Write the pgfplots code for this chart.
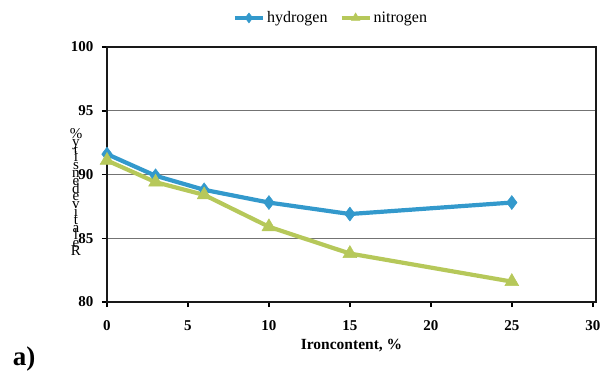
\documentclass[border=0pt]{standalone}
\usepackage{pgfplots}
\pgfplotsset{compat=1.18}
\usepackage{fontspec}
\setmainfont{Liberation Serif}
\definecolor{hblue}{RGB}{51,153,204}
\definecolor{ngreen}{RGB}{182,200,90}
\newcommand\stackfont{\fontsize{15}{7.8}\selectfont\setlength{\lineskiplimit}{-50pt}\setlength{\lineskip}{0pt}}
\begin{document}
\begin{tikzpicture}
\useasboundingbox (-107pt,-71pt) rectangle (498pt,302pt);
\begin{axis}[
  at={(0pt,0pt)}, anchor=south west,
  scale only axis, width=489pt, height=255pt,
  xmin=0, xmax=30.2, ymin=80, ymax=100,
  xtick={0,5,...,30}, ytick={80,85,90,95,100},
  axis line style={line width=1.8pt, black!90},
  tick style={line width=1.5pt, black},
  tick align=outside, major tick length=5pt,
  xtick pos=bottom, ytick pos=left,
  ymajorgrids, major grid style={line width=0.9pt, black!55},
  tick label style={font=\fontsize{15}{15}\selectfont\bfseries},
  /pgf/number format/assume math mode=true,
  xlabel={Ironcontent, \%},
  xlabel style={font=\fontsize{15.5}{15.5}\selectfont\bfseries, at={(0.5,0)}, yshift=-44pt, anchor=center},
  xticklabel style={yshift=-10pt},
  yticklabel style={xshift=-5pt},
  legend columns=2,
  legend style={at={(0.458,1.114)}, anchor=center, draw=none, fill=none,
    font=\fontsize{16}{16}\selectfont, /tikz/every even column/.append style={column sep=10pt},
    inner sep=0pt},
  legend image code/.code={
    \draw[#1, mark=none] (0pt,0pt) -- (28pt,0pt);
    \draw[#1, mark size=5pt] plot coordinates {(14pt,0pt)};
  },
]
\addplot[hblue, line width=4.2pt, mark=diamond*, mark size=7pt, mark options={line width=0.5pt}] coordinates {
  (0,91.6) (3,89.9) (6,88.8) (10,87.8) (15,86.9) (25,87.8)};
\addlegendentry{hydrogen}
\addplot[ngreen, line width=4.2pt, mark=triangle*, mark size=8pt, mark options={line width=0.5pt}] coordinates {
  (0,91.1) (3,89.4) (6,88.4) (10,85.9) (15,83.8) (25,81.6)};
\addlegendentry{nitrogen}
\end{axis}
\node[align=center, inner sep=0pt, font=\stackfont] at (-31pt,110pt)
  {\%\\y\\t\\i\\s\\n\\e\\d\\e\\v\\i\\t\\a\\l\\e\\R};
\node[font=\fontsize{27}{27}\selectfont\bfseries, inner sep=0pt] at (-83pt,-57pt) {a)};
\end{tikzpicture}
\end{document}
